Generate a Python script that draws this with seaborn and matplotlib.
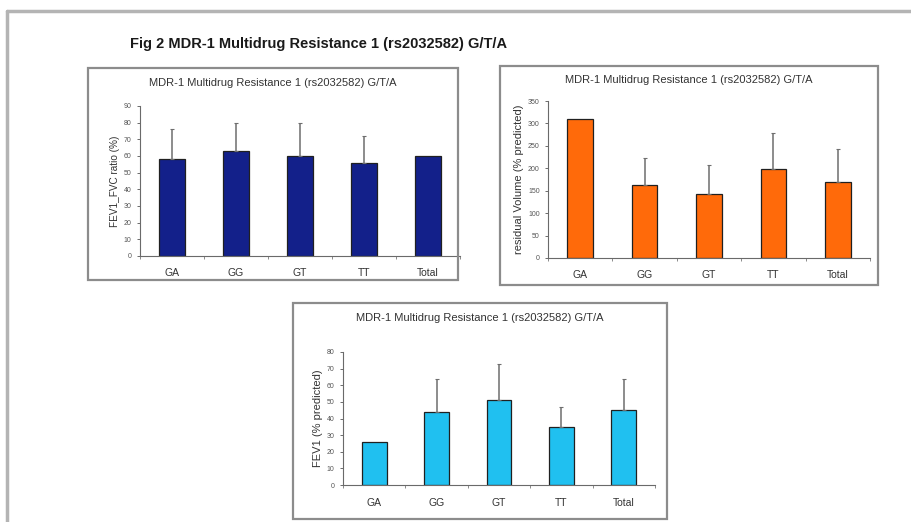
import numpy as np
import pandas as pd
import matplotlib
matplotlib.use("Agg")
import matplotlib.pyplot as plt
from matplotlib.patches import Rectangle
from matplotlib.lines import Line2D
import seaborn as sns

sns.set_theme(style="white")
plt.rcParams["font.family"] = ["Liberation Sans", "DejaVu Sans"]

# Genotype groups shared by all three panels
genotypes = ["GA", "GG", "GT", "TT", "Total"]

# FEV1/FVC ratio (%)
fev1_fvc_mean = [58, 63, 60, 56, 60]
fev1_fvc_sd = [18, 17, 20, 16, 0]

# Residual volume (% predicted)
rv_mean = [309, 163, 143, 199, 169]
rv_sd = [0, 59, 64, 80, 73]

# FEV1 (% predicted)
fev1_mean = [26, 44, 51, 35, 45]
fev1_sd = [0, 20, 22, 12, 19]

panel_title = "MDR-1 Multidrug Resistance 1 (rs2032582) G/T/A"
main_title = "Fig 2 MDR-1 Multidrug Resistance 1 (rs2032582) G/T/A"

W, H = 911, 522
fig = plt.figure(figsize=(W / 100, H / 100), dpi=100)


def px_rect(x0, y0, x1, y1):
    """Pixel box (top-left origin) -> figure-fraction rect."""
    return [x0 / W, 1 - y1 / H, (x1 - x0) / W, (y1 - y0) / H]


# Outer page frame (top and left edges)
fig.add_artist(Line2D([7 / W, 1.0], [1 - 11 / H, 1 - 11 / H], color="#b4b4b4",
                      lw=2.5, transform=fig.transFigure))
fig.add_artist(Line2D([7 / W, 7 / W], [0, 1 - 11 / H], color="#b4b4b4",
                      lw=2.5, transform=fig.transFigure))

fig.text(130 / W, 1 - 44 / H, main_title, fontsize=10.5, fontweight="bold",
         ha="left", va="center", color="#1a1a1a")

panels = [
    dict(box=(88, 68, 458, 280), ax=(140, 106, 460, 256), mean=fev1_fvc_mean,
         sd=fev1_fvc_sd, color="#13208a", ylim=90, step=10,
         ylabel="FEV1_FVC ratio (%)", ylab_size=7.2, title_y=83),
    dict(box=(500, 66, 878, 285), ax=(548, 101, 870, 258), mean=rv_mean,
         sd=rv_sd, color="#ff6a0a", ylim=350, step=50,
         ylabel="residual Volume (% predicted)", ylab_size=8, title_y=80),
    dict(box=(293, 303, 667, 519), ax=(343, 352, 655, 485), mean=fev1_mean,
         sd=fev1_sd, color="#20c0f0", ylim=80, step=10,
         ylabel="FEV1 (% predicted)", ylab_size=8, title_y=318),
]

for p in panels:
    bx0, by0, bx1, by1 = p["box"]
    fig.add_artist(Rectangle((bx0 / W, 1 - by1 / H), (bx1 - bx0) / W,
                             (by1 - by0) / H, transform=fig.transFigure,
                             fill=False, edgecolor="#8c8c8c", lw=1.6))
    fig.text((bx0 + bx1) / 2 / W, 1 - p["title_y"] / H, panel_title,
             fontsize=8, ha="center", va="center", color="#333333")

    ax0, ay0, ax1, ay1 = p["ax"]
    ax = fig.add_axes(px_rect(ax0, ay0, ax1, ay1))
    df = pd.DataFrame({"genotype": genotypes, "value": p["mean"]})
    sns.barplot(data=df, x="genotype", y="value", order=genotypes,
                color=p["color"], saturation=1, width=0.4,
                edgecolor="#202020", linewidth=0.9, errorbar=None, ax=ax)
    xs = np.arange(len(genotypes))
    has_err = np.array(p["sd"]) > 0
    ax.errorbar(xs[has_err], np.array(p["mean"])[has_err],
                yerr=[np.zeros(has_err.sum()), np.array(p["sd"])[has_err]],
                fmt="none", ecolor="#6e6e6e", elinewidth=1.1, capsize=1.5,
                capthick=0.8)

    ax.set_xlim(-0.5, len(genotypes) - 0.5)
    ax.set_ylim(0, p["ylim"])
    ax.set_yticks(np.arange(0, p["ylim"] + 1, p["step"]))
    ax.set_xlabel("")
    ax.set_ylabel(p["ylabel"], fontsize=p["ylab_size"], color="#333333",
                  labelpad=3)
    ax.tick_params(axis="y", labelsize=5, colors="#555555", length=2,
                   width=0.6, direction="out", left=True, pad=4)
    ax.tick_params(axis="x", labelsize=7.5, colors="#333333", length=0, pad=9)
    ax.set_xticks(np.arange(-0.5, len(genotypes), 1.0), minor=True)
    ax.tick_params(axis="x", which="minor", length=2, width=0.6,
                   color="#777777", bottom=True)
    for side in ("top", "right"):
        ax.spines[side].set_visible(False)
    for side in ("left", "bottom"):
        ax.spines[side].set_color("#6a6a6a")
        ax.spines[side].set_linewidth(0.8)
    ax.set_facecolor("white")

fig.savefig("out.png", dpi=100, facecolor="white")
